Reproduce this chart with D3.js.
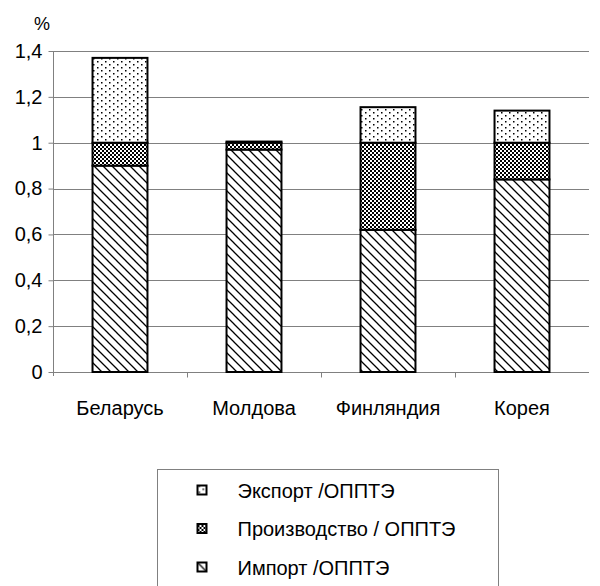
<!DOCTYPE html>
<html>
<head>
<meta charset="utf-8">
<script src="https://cdn.jsdelivr.net/npm/d3@7"></script>
<style>
  body { margin: 0; background: #fff; }
  text { font-family: "Liberation Sans", Arial, sans-serif; fill: #000; }
</style>
</head>
<body>
<div id="chart-area"></div>
<script>
// данные
var countries = ["Беларусь", "Молдова", "Финляндия", "Корея"];
var importVals = [0.90, 0.97, 0.62, 0.84];
var prodVals   = [0.10, 0.03, 0.38, 0.16];
var exportVals = [0.37, 0.005, 0.155, 0.14];
var seriesNames = ["Экспорт /ОППТЭ", "Производство / ОППТЭ", "Импорт /ОППТЭ"];
var yTicks = [0, 0.2, 0.4, 0.6, 0.8, 1, 1.2, 1.4];

var width = 600, height = 586;
var margin = { left: 53, right: 11, top: 51, bottom: 214 };

var svg = d3.select("#chart-area")
    .append("svg")
        .attr("width", width)
        .attr("height", height);

var defs = svg.append("defs");

// точки (экспорт)
var pDots = defs.append("pattern").attr("id", "p-export")
    .attr("patternUnits", "userSpaceOnUse").attr("width", 8).attr("height", 6);
pDots.append("rect").attr("width", 8).attr("height", 6).attr("fill", "#fff");
pDots.append("rect").attr("x", 1).attr("y", 1).attr("width", 1.5).attr("height", 1.5).attr("fill", "#000");
pDots.append("rect").attr("x", 5).attr("y", 4).attr("width", 1.5).attr("height", 1.5).attr("fill", "#000");

// шахматка (производство)
var pChk = defs.append("pattern").attr("id", "p-prod")
    .attr("patternUnits", "userSpaceOnUse").attr("width", 4).attr("height", 4);
pChk.append("rect").attr("width", 4).attr("height", 4).attr("fill", "#fff");
pChk.append("rect").attr("width", 2).attr("height", 2).attr("fill", "#000");
pChk.append("rect").attr("x", 2).attr("y", 2).attr("width", 2).attr("height", 2).attr("fill", "#000");

// диагонали (импорт)
var pDiag = defs.append("pattern").attr("id", "p-import")
    .attr("patternUnits", "userSpaceOnUse").attr("width", 9).attr("height", 9);
pDiag.append("rect").attr("width", 9).attr("height", 9).attr("fill", "#fff");
pDiag.append("path").attr("d", "M-1,-1 L10,10 M-1,8 L1,10 M8,-1 L10,1")
    .attr("stroke", "#000").attr("stroke-width", 1.3);

var fills = ["url(#p-export)", "url(#p-prod)", "url(#p-import)"];

var x = d3.scaleBand()
    .domain(countries)
    .range([margin.left, width - margin.right])
    .paddingInner(0.59)
    .paddingOuter(0.295);

var xb = d3.scaleBand()
    .domain(countries)
    .range([margin.left, width - margin.right]);

var y = d3.scaleLinear()
    .domain([0, 1.4])
    .range([height - margin.bottom, margin.top]);

// сетка
svg.append("g").selectAll("line")
    .data(yTicks.filter(d => d > 0))
    .join("line")
        .attr("x1", margin.left).attr("x2", width - margin.right)
        .attr("y1", d => Math.round(y(d)) + 0.5).attr("y2", d => Math.round(y(d)) + 0.5)
        .attr("stroke", "#808080").attr("stroke-width", 1);

// ось Y
var yAxis = svg.append("g")
    .attr("transform", "translate(" + (margin.left + 0.5) + ",0)")
    .call(d3.axisLeft(y).tickValues(yTicks).tickSize(5).tickPadding(6)
        .tickFormat(d => String(d).replace(".", ",")));
yAxis.select(".domain").attr("stroke", "#808080").attr("d", "M0," + y(1.4) + "V" + (y(0) + 4));
yAxis.selectAll(".tick line").attr("stroke", "#808080");
yAxis.selectAll(".tick text").attr("font-size", 20).attr("font-family", "Liberation Sans, Arial, sans-serif").attr("fill", "#000");

// ось X
var xAxis = svg.append("g")
    .attr("transform", "translate(0," + (Math.round(y(0)) + 0.5) + ")");
xAxis.append("line")
    .attr("x1", margin.left).attr("x2", width - margin.right)
    .attr("stroke", "#808080");
xAxis.selectAll("line.t")
    .data(countries.slice(1))
    .join("line").attr("class", "t")
        .attr("x1", d => xb(d) + 0.5).attr("x2", d => xb(d) + 0.5)
        .attr("y1", 0).attr("y2", 5)
        .attr("stroke", "#808080");
xAxis.selectAll("text")
    .data(countries)
    .join("text")
        .attr("x", d => xb(d) + xb.bandwidth() / 2)
        .attr("y", 42)
        .attr("text-anchor", "middle")
        .attr("font-size", 20)
        .text(d => d);

// столбцы
var stacked = countries.map((c, i) => {
    var a = importVals[i], b = a + prodVals[i], e = b + exportVals[i];
    return [
        { c: c, y0: 0, y1: a, k: 2 },
        { c: c, y0: a, y1: b, k: 1 },
        { c: c, y0: b, y1: e, k: 0 }
    ];
}).flat();

svg.append("g").selectAll("rect")
    .data(stacked)
    .join("rect")
        .attr("x", d => x(d.c))
        .attr("width", x.bandwidth())
        .attr("y", d => y(d.y1))
        .attr("height", d => y(d.y0) - y(d.y1))
        .attr("fill", d => fills[d.k])
        .attr("stroke", "#000")
        .attr("stroke-width", 2);

// "%"
svg.append("text").attr("x", 42).attr("y", 30)
    .attr("text-anchor", "middle").attr("font-size", 18).text("%");

// легенда
var lg = svg.append("g").attr("transform", "translate(157.5,469.5)");
lg.append("rect").attr("width", 341).attr("height", 130)
    .attr("fill", "#fff").attr("stroke", "#808080").attr("stroke-width", 1);
var li = lg.selectAll("g.item")
    .data(seriesNames)
    .join("g").attr("class", "item")
        .attr("transform", (d, i) => "translate(0," + (21 + i * 38.5) + ")");
li.append("rect")
    .attr("x", 40).attr("y", -5).attr("width", 9).attr("height", 9)
    .attr("fill", (d, i) => fills[i]).attr("stroke", "#000").attr("stroke-width", 2);
li.append("text")
    .attr("x", 80).attr("y", 7)
    .attr("font-size", 20)
    .text(d => d);
</script>
</body>
</html>
